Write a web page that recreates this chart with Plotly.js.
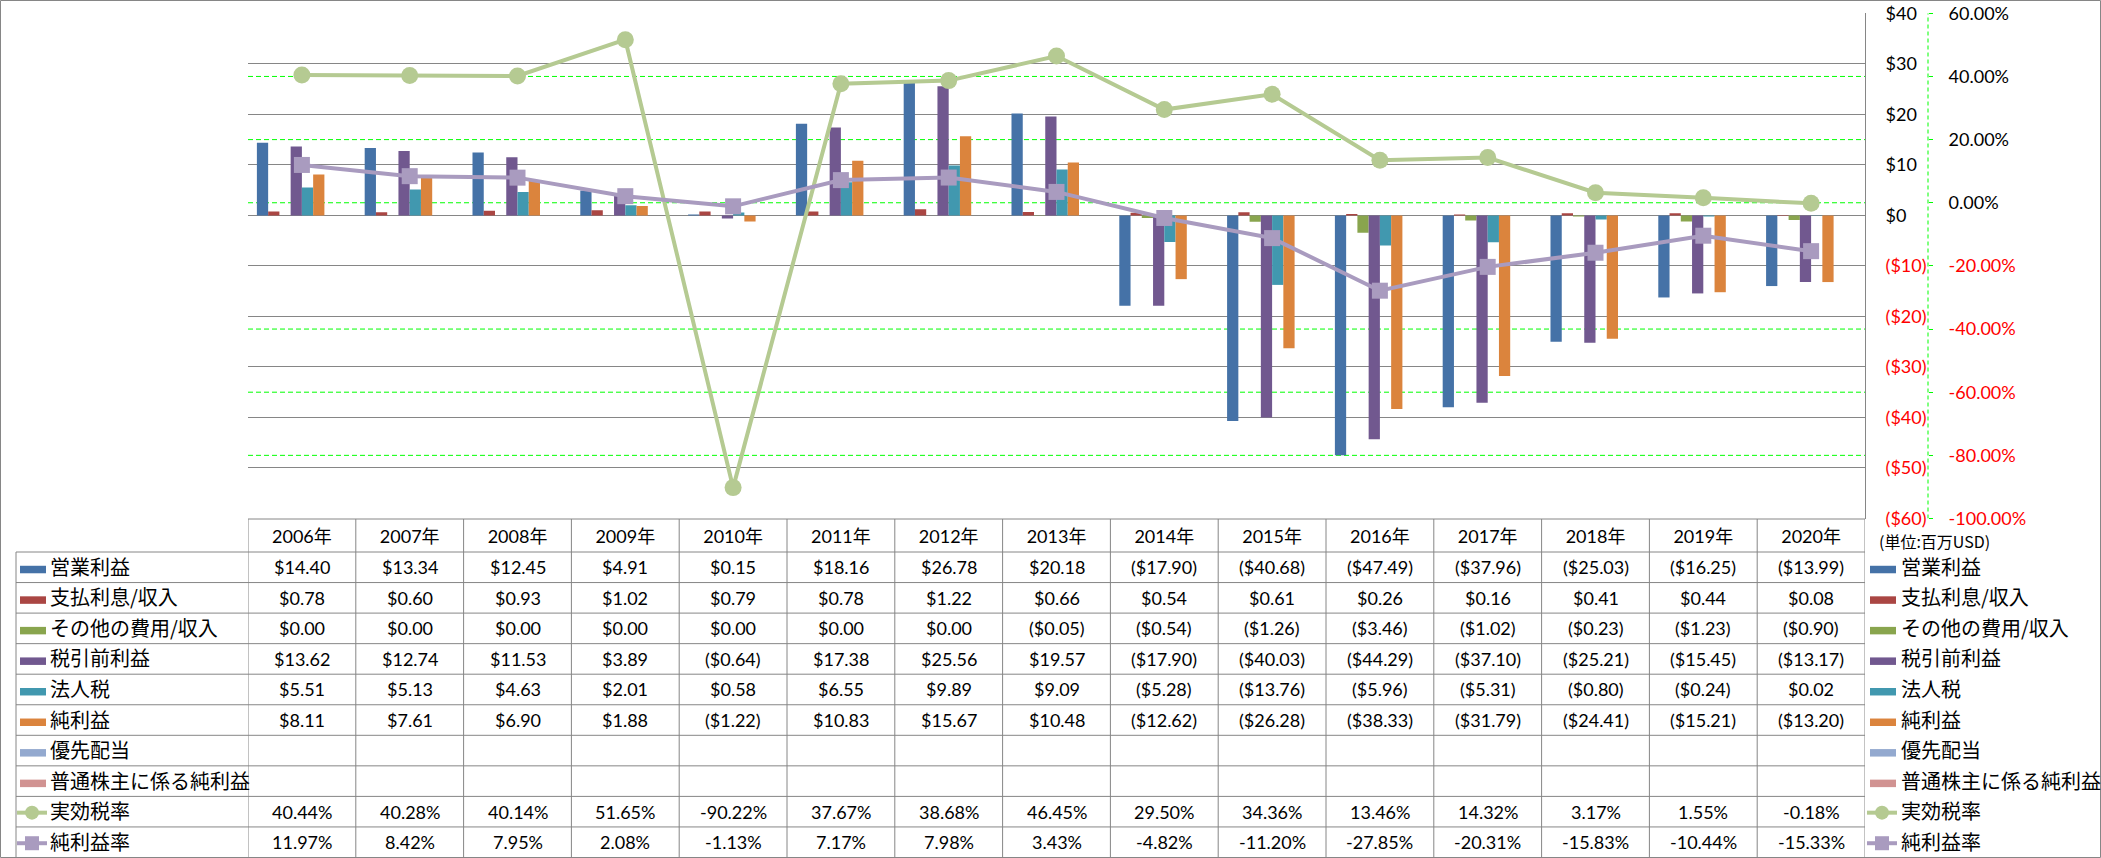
<!DOCTYPE html>
<html>
<head>
<meta charset="utf-8">
<script src="https://cdn.plot.ly/plotly-3.0.1.min.js"></script>
<style>
  html, body { margin: 0; padding: 0; background: #ffffff; }
  #chart { width: 2101px; height: 858px; }
</style>
</head>
<body>
<div id="chart"></div>
<script>
// ---------------- data ----------------
const years = ['2006年','2007年','2008年','2009年','2010年','2011年','2012年','2013年','2014年','2015年','2016年','2017年','2018年','2019年','2020年'];
const operatingIncome = [14.40, 13.34, 12.45, 4.91, 0.15, 18.16, 26.78, 20.18, -17.90, -40.68, -47.49, -37.96, -25.03, -16.25, -13.99];
const interestExpense = [0.78, 0.60, 0.93, 1.02, 0.79, 0.78, 1.22, 0.66, 0.54, 0.61, 0.26, 0.16, 0.41, 0.44, 0.08];
const otherExpense = [0.00, 0.00, 0.00, 0.00, 0.00, 0.00, 0.00, -0.05, -0.54, -1.26, -3.46, -1.02, -0.23, -1.23, -0.90];
const pretaxIncome = [13.62, 12.74, 11.53, 3.89, -0.64, 17.38, 25.56, 19.57, -17.90, -40.03, -44.29, -37.10, -25.21, -15.45, -13.17];
const incomeTax = [5.51, 5.13, 4.63, 2.01, 0.58, 6.55, 9.89, 9.09, -5.28, -13.76, -5.96, -5.31, -0.80, -0.24, 0.02];
const netIncome = [8.11, 7.61, 6.90, 1.88, -1.22, 10.83, 15.67, 10.48, -12.62, -26.28, -38.33, -31.79, -24.41, -15.21, -13.20];
const preferredDividends = [null, null, null, null, null, null, null, null, null, null, null, null, null, null, null];
const commonNetIncome = [null, null, null, null, null, null, null, null, null, null, null, null, null, null, null];
const effectiveTaxRate = [40.44, 40.28, 40.14, 51.65, -90.22, 37.67, 38.68, 46.45, 29.50, 34.36, 13.46, 14.32, 3.17, 1.55, -0.18];
const netMargin = [11.97, 8.42, 7.95, 2.08, -1.13, 7.17, 7.98, 3.43, -4.82, -11.20, -27.85, -20.31, -15.83, -10.44, -15.33];

const yTicks = [40, 30, 20, 10, 0, -10, -20, -30, -40, -50, -60];
const y2Ticks = [60, 40, 20, 0, -20, -40, -60, -80, -100];
const unitLabel = '(単位:百万USD)';

// ---------------- styling ----------------
const W = 2101, H = 858;
const NUMF = 'Lato, "Noto Sans CJK JP", sans-serif';
const JPF = '"Noto Sans CJK JP", sans-serif';
const GRAY = '#868686';
const RED = '#FF0000';
const GREEN_GRID = '#00FF00';

const plotLeft = 248, plotRight = 1865, plotTop = 13.3, plotBottom = 518.5;
const headerTop = 519, rowTop0 = 552, rowH = 30.55;
const px = v => v / W;
const py = v => 1 - v / H;

const rows = [
  {name: '営業利益', values: operatingIncome, kind: 'bar', fmt: 'money', color: '#4572A7'},
  {name: '支払利息/収入', values: interestExpense, kind: 'bar', fmt: 'money', color: '#AA4643'},
  {name: 'その他の費用/収入', values: otherExpense, kind: 'bar', fmt: 'money', color: '#89A54E'},
  {name: '税引前利益', values: pretaxIncome, kind: 'bar', fmt: 'money', color: '#71588F'},
  {name: '法人税', values: incomeTax, kind: 'bar', fmt: 'money', color: '#4198AF'},
  {name: '純利益', values: netIncome, kind: 'bar', fmt: 'money', color: '#DB843D'},
  {name: '優先配当', values: preferredDividends, kind: 'bar', fmt: 'money', color: '#93A9CF'},
  {name: '普通株主に係る純利益', values: commonNetIncome, kind: 'bar', fmt: 'money', color: '#D19392'},
  {name: '実効税率', values: effectiveTaxRate, kind: 'line', fmt: 'pct', color: '#B5CA92', marker: 'circle', msize: 17},
  {name: '純利益率', values: netMargin, kind: 'line', fmt: 'pct', color: '#A99BBF', marker: 'square', msize: 16}
];

function money(v) {
  if (v === null || v === undefined) return '';
  const s = '$' + Math.abs(v).toFixed(2);
  return v < 0 ? '(' + s + ')' : s;
}
function pct(v) {
  if (v === null || v === undefined) return '';
  return v.toFixed(2) + '%';
}
function red(s) { return '<span style="color:' + RED + '">' + s + '</span>'; }

// ---------------- traces ----------------
const traces = [];
rows.forEach(r => {
  if (r.kind === 'bar') {
    traces.push({
      type: 'bar', name: r.name, x: years, y: r.values,
      marker: {color: r.color, line: {width: 0}},
      hoverinfo: 'x+y+name'
    });
  }
});
rows.forEach(r => {
  if (r.kind === 'line') {
    traces.push({
      type: 'scatter', mode: 'lines+markers', name: r.name, x: years, y: r.values,
      yaxis: 'y2', cliponaxis: false,
      line: {color: r.color, width: 4},
      marker: {symbol: r.marker, size: r.msize, color: r.color, line: {width: 0}}
    });
  }
});

// ---------------- shapes ----------------
const shapes = [];
// outer chart border
shapes.push({type: 'rect', xref: 'paper', yref: 'paper', x0: px(0.5), x1: px(W - 0.5), y0: py(857.5), y1: py(0.5),
  line: {color: GRAY, width: 1}, fillcolor: 'rgba(0,0,0,0)', layer: 'above'});
// secondary gridlines (green dashed) — skipped where a primary gridline already sits
const yMin = yTicks[yTicks.length - 1], yMax = yTicks[0];
const y2Min = y2Ticks[y2Ticks.length - 1], y2Max = y2Ticks[0];
const primaryFracs = yTicks.map(v => (v - yMin) / (yMax - yMin));
y2Ticks.slice(1, -1).forEach(v => {
  const f = (v - y2Min) / (y2Max - y2Min);
  if (primaryFracs.some(p => Math.abs(p - f) < 0.003)) return;
  shapes.push({type: 'line', xref: 'x domain', yref: 'y2', x0: 0, x1: 1, y0: v, y1: v,
    line: {color: GREEN_GRID, width: 1, dash: '5px,3px'}, layer: 'below'});
});
// secondary axis line (dashed green)
shapes.push({type: 'line', xref: 'paper', yref: 'y2', x0: px(1928), x1: px(1928),
  y0: y2Min, y1: y2Max, line: {color: GREEN_GRID, width: 1, dash: '4px,3px'}});
// table: header top
shapes.push({type: 'line', xref: 'paper', yref: 'paper', x0: px(plotLeft), x1: px(plotRight), y0: py(headerTop), y1: py(headerTop),
  line: {color: GRAY, width: 1}});
// table: row lines
for (let k = 0; k <= rows.length; k++) {
  const yy = rowTop0 + k * rowH;
  shapes.push({type: 'line', xref: 'paper', yref: 'paper', x0: px(16), x1: px(plotRight), y0: py(yy), y1: py(yy),
    line: {color: GRAY, width: 1}});
}
// table: left border of label column
shapes.push({type: 'line', xref: 'paper', yref: 'paper', x0: px(16), x1: px(16), y0: py(rowTop0), y1: py(rowTop0 + rows.length * rowH),
  line: {color: GRAY, width: 1}});
// table: column separators at category boundaries
for (let i = 0; i <= years.length; i++) {
  shapes.push({type: 'line', xref: 'x', yref: 'paper', x0: i - 0.5, x1: i - 0.5, y0: py(headerTop), y1: py(rowTop0 + rows.length * rowH),
    line: {color: GRAY, width: 1}});
}

// ---------------- annotations ----------------
const annotations = [];
rows.forEach((r, ri) => {
  const cy = rowTop0 + ri * rowH + rowH / 2;
  r.values.forEach((v, i) => {
    if (v === null) return;
    annotations.push({xref: 'x', yref: 'paper', x: i, y: py(cy), xanchor: 'center', yanchor: 'middle',
      text: r.fmt === 'money' ? money(v) : pct(v), showarrow: false,
      font: {family: NUMF, size: 18, color: '#000000'}});
  });
  // legend keys, left (inside table) and right
  [[20, 46, 48], [1870, 1896, 1899]].forEach(([sx0, sx1, tx]) => {
    if (r.kind === 'bar') {
      shapes.push({type: 'rect', xref: 'paper', yref: 'paper', x0: px(sx0), x1: px(sx1), y0: py(cy + 6), y1: py(cy - 1.5),
        line: {width: 0}, fillcolor: r.color});
    } else {
      const mx = (sx0 + sx1) / 2 - 1;
      shapes.push({type: 'line', xref: 'paper', yref: 'paper', x0: px(sx0 - 3), x1: px(sx1 + 1), y0: py(cy + 1), y1: py(cy + 1),
        line: {color: r.color, width: 4}});
      const half = 7;
      shapes.push({type: r.marker === 'circle' ? 'circle' : 'rect', xref: 'paper', yref: 'paper',
        x0: px(mx - half), x1: px(mx + half), y0: py(cy + 1 + half), y1: py(cy + 1 - half),
        line: {width: 0}, fillcolor: r.color});
    }
    annotations.push({xref: 'paper', yref: 'paper', x: px(tx), y: py(cy - 1), xanchor: 'left', yanchor: 'middle',
      text: r.name, showarrow: false, font: {family: JPF, size: 20, color: '#000000'}});
  });
});
annotations.push({xref: 'paper', yref: 'paper', x: px(1877), y: py(541), xanchor: 'left', yanchor: 'middle',
  text: unitLabel, showarrow: false, font: {family: JPF, size: 16, color: '#000000'}});

// ---------------- layout ----------------
const yDomain = [py(plotBottom), py(plotTop)];
const layout = {
  width: W, height: H,
  margin: {l: 0, r: 0, t: 0, b: 0},
  paper_bgcolor: '#ffffff', plot_bgcolor: 'rgba(0,0,0,0)',
  showlegend: false,
  barmode: 'group', bargap: 0.165, bargroupgap: 0,
  font: {family: NUMF, size: 18, color: '#000000'},
  xaxis: {
    domain: [px(plotLeft), px(plotRight)], type: 'category', range: [-0.5, years.length - 0.5],
    showgrid: false, zeroline: false, showline: false, ticks: '',
    tickfont: {family: NUMF, size: 18, color: '#000000'}, ticklabelstandoff: 5, fixedrange: true
  },
  yaxis: {
    domain: yDomain, range: [yMin, yMax], side: 'right',
    tickmode: 'array', tickvals: yTicks,
    ticktext: yTicks.map(v => v < 0 ? red('($' + Math.abs(v) + ')') : '$' + v),
    showgrid: true, gridcolor: GRAY, gridwidth: 1, zeroline: false,
    showline: true, linecolor: GRAY, linewidth: 1, ticks: '', ticklabelstandoff: 16,
    tickfont: {family: NUMF, size: 18, color: '#000000'}, fixedrange: true
  },
  yaxis2: {
    domain: yDomain, overlaying: 'y', anchor: 'free', position: px(1928), side: 'right',
    range: [y2Min, y2Max],
    tickmode: 'array', tickvals: y2Ticks,
    ticktext: y2Ticks.map(v => v < 0 ? red(v.toFixed(2) + '%') : v.toFixed(2) + '%'),
    showgrid: false, zeroline: false, showline: false,
    ticks: 'outside', ticklen: 4, tickwidth: 1, tickcolor: GREEN_GRID, ticklabelstandoff: 12,
    tickfont: {family: NUMF, size: 18, color: '#000000'}, fixedrange: true
  },
  shapes: shapes,
  annotations: annotations
};

Plotly.newPlot('chart', traces, layout, {displayModeBar: false, staticPlot: true});
</script>
</body>
</html>
